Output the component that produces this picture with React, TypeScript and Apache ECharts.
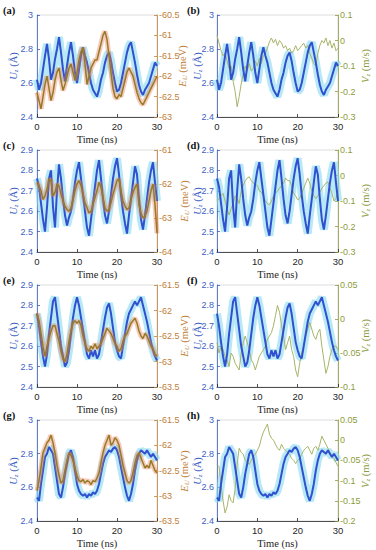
import React, { useEffect, useRef } from "react";
import * as echarts from "echarts";

// time samples (ns)
const TIME = Array.from({ length: 61 }, (_, k) => k * 0.5);

// U_z (Å) rows
const UZ_AB = [
  2.62, 2.56, 2.6, 2.68, 2.76, 2.83, 2.74, 2.62, 2.66, 2.74,
  2.8, 2.87, 2.78, 2.68, 2.61, 2.7, 2.78, 2.84, 2.76, 2.66,
  2.6, 2.68, 2.76, 2.81, 2.76, 2.72, 2.66, 2.6, 2.56, 2.54,
  2.52, 2.56, 2.62, 2.66, 2.72, 2.76, 2.78, 2.73, 2.66, 2.6,
  2.55, 2.56, 2.6, 2.66, 2.72, 2.78, 2.82, 2.84, 2.78, 2.72,
  2.65, 2.59, 2.55, 2.53, 2.56, 2.58, 2.6, 2.64, 2.68, 2.72,
  2.7,
];
const UZ_CD = [
  2.76, 2.72, 2.64, 2.56, 2.5, 2.62, 2.76, 2.8, 2.62, 2.52,
  2.7, 2.83, 2.76, 2.66, 2.58, 2.53, 2.57, 2.6, 2.66, 2.74,
  2.8, 2.84, 2.76, 2.68, 2.6, 2.52, 2.48, 2.56, 2.64, 2.72,
  2.8, 2.85, 2.76, 2.66, 2.58, 2.54, 2.6, 2.68, 2.76, 2.82,
  2.86, 2.78, 2.68, 2.6, 2.54, 2.49, 2.58, 2.66, 2.74, 2.82,
  2.78, 2.66, 2.56, 2.51, 2.58, 2.66, 2.74, 2.8, 2.84, 2.74,
  2.65,
];
const UZ_EF = [
  2.76, 2.7, 2.62, 2.55, 2.5, 2.56, 2.66, 2.74, 2.82, 2.84,
  2.76, 2.68, 2.6, 2.55, 2.5, 2.52, 2.58, 2.66, 2.74, 2.8,
  2.84, 2.8, 2.74, 2.68, 2.62, 2.56, 2.54, 2.58, 2.55, 2.58,
  2.54, 2.56, 2.62, 2.68, 2.74, 2.79, 2.81, 2.76, 2.69, 2.62,
  2.58, 2.55, 2.54, 2.6, 2.66, 2.72, 2.76, 2.78, 2.8, 2.82,
  2.8, 2.82, 2.84, 2.8, 2.76, 2.72, 2.67, 2.62, 2.58, 2.55,
  2.53,
];
const UZ_GH = [
  2.54, 2.52, 2.62, 2.7, 2.78, 2.8, 2.84, 2.82, 2.8, 2.72,
  2.64, 2.56, 2.54, 2.6, 2.68, 2.74, 2.8, 2.82, 2.78, 2.7,
  2.62, 2.58, 2.56, 2.55, 2.56, 2.54, 2.56, 2.55, 2.57, 2.56,
  2.58, 2.62, 2.68, 2.74, 2.78, 2.8, 2.82, 2.81, 2.83, 2.84,
  2.82, 2.78, 2.72, 2.66, 2.6, 2.55, 2.52, 2.56, 2.62, 2.7,
  2.76, 2.8, 2.82, 2.81, 2.8, 2.82, 2.8, 2.78, 2.8, 2.78,
  2.76,
];

// E_U (meV)
const E_A = [
  -62.4, -62.6, -62.8, -62.5, -62.2, -62.0, -62.3, -62.6, -62.4, -62.1,
  -61.9, -61.8, -62.1, -62.35, -62.2, -62.0, -61.8, -61.7, -61.9, -62.1,
  -61.9, -61.6, -61.4, -61.3, -61.7, -62.2, -62.0, -61.8, -61.7, -61.6,
  -61.6, -61.4, -61.2, -61.0, -60.9, -61.1, -61.5, -61.9, -62.3, -62.5,
  -62.55, -62.45, -62.5, -62.3, -62.1, -61.9, -61.8, -61.9, -62.0, -62.2,
  -62.4, -62.55, -62.65, -62.7, -62.6, -62.5, -62.4, -62.3, -62.2, -62.1,
  -62.0,
];
const E_C = [
  -61.95, -62.05, -62.2, -62.45, -62.35, -62.15, -61.85, -61.9, -62.35, -62.25,
  -62.0, -62.05, -62.3, -62.5, -62.65, -62.75, -62.8, -62.7, -62.45, -62.2,
  -62.0, -61.9, -62.05, -62.3, -62.55, -62.7, -62.85, -62.8, -62.6, -62.4,
  -62.2, -61.95, -62.1, -62.4, -62.7, -62.8, -62.75, -62.55, -62.3, -62.1,
  -61.9, -61.85, -62.2, -62.5, -62.65, -62.75, -62.7, -62.45, -62.25, -62.1,
  -62.0, -62.6, -62.85, -63.0, -62.95, -62.8, -62.5, -62.2, -62.0, -62.6,
  -63.45,
];
const E_E = [
  -62.05, -62.2, -62.45, -62.7, -62.9, -62.7, -62.55, -62.4, -62.3, -62.3,
  -62.45, -62.6, -62.8, -62.95, -63.0, -62.85, -62.6, -62.4, -62.25, -62.2,
  -62.25, -62.2, -62.3, -62.5, -62.65, -62.75, -62.8, -62.7, -62.75, -62.65,
  -62.75, -62.7, -62.65, -62.55, -62.45, -62.35, -62.4, -62.45, -62.55, -62.65,
  -62.7, -62.8, -62.75, -62.6, -62.5, -62.45, -62.35, -62.25, -62.2, -62.15,
  -62.25, -62.4, -62.5, -62.55, -62.45, -62.5, -62.6, -62.7, -62.75, -62.85,
  -62.9,
];
const E_G = [
  -62.9, -62.7, -62.45, -62.15, -62.05, -61.95, -61.9, -61.8, -61.95, -62.15,
  -62.4, -62.6, -62.75, -62.7, -62.5, -62.3, -62.15, -62.2, -62.3, -62.45,
  -62.6, -62.7, -62.72, -62.68, -62.75, -62.7, -62.72, -62.78, -62.7, -62.72,
  -62.65, -62.55, -62.35, -62.15, -62.0, -61.9, -61.8, -62.0, -61.95, -61.85,
  -61.9, -62.0, -62.2, -62.4, -62.55, -62.7, -62.75, -62.7, -62.55, -62.35,
  -62.2, -62.15, -62.25, -62.35, -62.45, -62.4, -62.45, -62.3, -62.4, -62.5,
  -62.55,
];

// V_z (m/s)
const V_B = [
  0.02, -0.01, -0.04, -0.06, -0.05, -0.08, -0.11, -0.1, -0.16, -0.2,
  -0.26, -0.22, -0.17, -0.13, -0.1, -0.12, -0.09, -0.12, -0.11, -0.08,
  -0.1, -0.07, -0.09, -0.06, -0.05, -0.03, -0.005, 0.01, -0.01, 0.005,
  -0.02, 0.0, -0.01, -0.03, -0.02, -0.04, -0.03, -0.05, -0.04, -0.02,
  -0.04, -0.03, -0.02, -0.01, -0.03, -0.02, -0.05, -0.07, -0.09, -0.1,
  -0.05, -0.02, 0.0, -0.01, 0.01, -0.02, 0.0, -0.03, -0.01, -0.04,
  -0.03,
];
const V_D = [
  -0.1, -0.09, -0.08, -0.07, -0.1, -0.13, -0.155, -0.13, -0.11, -0.08,
  -0.09, -0.11, -0.06, -0.04, -0.02, -0.01, -0.005, -0.02, -0.03, -0.035,
  -0.04, -0.06, -0.065, -0.08, -0.1, -0.11, -0.115, -0.1, -0.08, -0.07,
  -0.06, -0.05, -0.04, -0.03, -0.01, -0.02, -0.02, -0.04, -0.07, -0.08,
  -0.095, -0.09, -0.07, -0.05, -0.03, -0.01, -0.03, -0.06, -0.08, -0.09,
  -0.08, -0.065, -0.05, -0.04, -0.03, -0.025, -0.05, -0.07, -0.1, -0.09,
  -0.06,
];
const V_F = [
  -0.035, -0.05, -0.04, -0.045, -0.055, -0.06, -0.07, -0.05, -0.055, -0.065,
  -0.07, -0.075, -0.05, -0.035, -0.025, -0.035, -0.045, -0.06, -0.065, -0.075,
  -0.065, -0.055, -0.05, -0.045, -0.04, -0.03, -0.025, -0.02, -0.01, 0.005,
  0.02, 0.01, -0.01, -0.025, -0.045, -0.035, -0.025, -0.045, -0.055, -0.075,
  -0.085, -0.065, -0.05, -0.04, -0.025, -0.015, -0.005, -0.015, -0.025, -0.03,
  -0.02, -0.015, -0.04, -0.06, -0.08, -0.07, -0.055, -0.045, -0.04, -0.04,
  -0.045,
];
const V_H = [
  -0.06, -0.065, -0.11, -0.15, -0.18, -0.165, -0.135, -0.15, -0.155, -0.12,
  -0.06, -0.02, -0.03, -0.035, -0.05, -0.055, -0.06, -0.05, -0.04, -0.035,
  -0.025, -0.015, 0.005, 0.02, 0.03, 0.04, 0.015, 0.005, 0.0, -0.01,
  -0.02, -0.025, -0.01, -0.02, -0.025, -0.03, -0.035, -0.045, -0.05, -0.058,
  -0.05, -0.045, -0.035, -0.025, -0.02, -0.015, -0.025, -0.035, -0.02, -0.015,
  -0.025, -0.01, 0.01, 0.0, -0.01, -0.02, -0.03, -0.04, -0.045, -0.055,
  -0.065,
];

const PANEL_LABELS = ["(a)", "(b)", "(c)", "(d)", "(e)", "(f)", "(g)", "(h)"];
const UZ_ROWS = [UZ_AB, UZ_AB, UZ_CD, UZ_CD, UZ_EF, UZ_EF, UZ_GH, UZ_GH];
const RIGHT_ROWS = [E_A, V_B, E_C, V_D, E_E, V_F, E_G, V_H];
const LEFT_RANGES = [
  [2.4, 3, 0.2], [2.4, 3, 0.2],
  [2.4, 2.9, 0.1], [2.4, 2.9, 0.1],
  [2.4, 2.9, 0.1], [2.4, 2.9, 0.1],
  [2.4, 3, 0.2], [2.4, 3, 0.2],
];
const RIGHT_RANGES = [
  [-63, -60.5, 0.5], [-0.3, 0.1, 0.1],
  [-64, -61, 1], [-0.3, 0.1, 0.1],
  [-63.5, -61.5, 0.5], [-0.1, 0.05, 0.05],
  [-63.5, -61.5, 0.5], [-0.2, 0.05, 0.05],
];

const BLUE = "#3d5fc4";
const ORANGE = "#c0803a";
const OLIVE = "#8c9c3e";
const SANS = "Liberation Sans, Arial, sans-serif";
const SERIF = "Liberation Serif, Times New Roman, serif";

export default function App() {
  const ref = useRef<HTMLDivElement>(null);
  useEffect(() => {
    const chart = echarts.init(ref.current!, null, { renderer: "svg" });
    const grids: any[] = [];
    const xAxes: any[] = [];
    const yAxes: any[] = [];
    const series: any[] = [];
    const graphics: any[] = [];

    const richFor = (c: string) => ({
      i: { fontFamily: SERIF, fontStyle: "italic", fontSize: 10.5, fill: c, lineHeight: 12 },
      s: { fontFamily: SERIF, fontStyle: "italic", fontSize: 7, fill: c, lineHeight: 7, verticalAlign: "bottom" },
      n: { fontFamily: SERIF, fontSize: 10.5, fill: c, lineHeight: 12 },
    });
    const vName = (text: string, x: number, y: number, c: string) => ({
      type: "text",
      x,
      y,
      rotation: Math.PI / 2,
      silent: true,
      style: { text, rich: richFor(c), fill: c, align: "center", verticalAlign: "middle", font: `10.5px ${SERIF}` },
    });

    for (let i = 0; i < 8; i++) {
      const col = i % 2;
      const row = Math.floor(i / 2);
      const isE = col === 0;
      const rc = isE ? ORANGE : OLIVE;
      const top = 15 + 135 * row;
      const left = col === 0 ? 37 : 217;
      const width = col === 0 ? 120 : 121;
      grids.push({
        left,
        width,
        top,
        height: 102,
        show: true,
        borderColor: "#d4d4d4",
        borderWidth: 0.8,
        backgroundColor: "transparent",
      });
      xAxes.push({
        gridIndex: i,
        type: "value",
        min: 0,
        max: 30,
        interval: 10,
        axisLine: { show: true, onZero: false, lineStyle: { color: "#262626", width: 0.8 } },
        axisTick: { inside: true, length: 3, lineStyle: { color: "#262626", width: 0.8 } },
        axisLabel: { fontSize: 9.5, color: "#262626", margin: 4, fontFamily: SANS },
        splitLine: { show: false },
        name: "Time (ns)",
        nameLocation: "middle",
        nameGap: 17,
        nameTextStyle: { fontFamily: SERIF, fontSize: 10.5, color: "#262626" },
      });
      const lr = LEFT_RANGES[i];
      const rr = RIGHT_RANGES[i];
      yAxes.push({
        gridIndex: i,
        type: "value",
        position: "left",
        min: lr[0],
        max: lr[1],
        interval: lr[2],
        axisLine: { show: true, onZero: false, lineStyle: { color: BLUE, width: 0.8 } },
        axisTick: { show: true, inside: true, length: 3, lineStyle: { color: BLUE, width: 0.8 } },
        axisLabel: { fontSize: 9, color: BLUE, margin: col === 0 ? 4 : 3, fontFamily: SANS },
        splitLine: { show: false },
      });
      yAxes.push({
        gridIndex: i,
        type: "value",
        position: "right",
        min: rr[0],
        max: rr[1],
        interval: rr[2],
        axisLine: { show: true, onZero: false, lineStyle: { color: rc, width: 0.8 } },
        axisTick: { show: true, inside: true, length: 3, lineStyle: { color: rc, width: 0.8 } },
        axisLabel: { fontSize: 9, color: rc, margin: 2, fontFamily: SANS },
        splitLine: { show: false },
      });

      const midY = top + 51;
      graphics.push(vName("{i|U}{s|z} {n|(Å)}", col === 0 ? 13 : 197, midY, BLUE));
      if (isE) {
        graphics.push(vName("{i|E}{s|U} {n|(meV)}", row === 0 ? 182 : 184, midY, ORANGE));
      } else {
        graphics.push(vName("{i|V}{s|z} {n|(m/s)}", 365, midY, OLIVE));
      }

      const uz = UZ_ROWS[i].map((v, k) => [TIME[k], v]);
      const rv = RIGHT_ROWS[i].map((v, k) => [TIME[k], v]);
      const base = { type: "line", xAxisIndex: i, showSymbol: false, symbol: "none", silent: true, smooth: false };
      series.push({ ...base, yAxisIndex: 2 * i, data: uz, lineStyle: { color: "#86d8f0", width: 8, opacity: 0.6 }, z: 1 });
      if (isE) {
        series.push({ ...base, yAxisIndex: 2 * i, data: uz, lineStyle: { color: "#3050d0", width: 2 }, z: 2 });
        series.push({ ...base, yAxisIndex: 2 * i + 1, data: rv, lineStyle: { color: "#f07850", width: 5, opacity: 0.4 }, z: 3 });
        series.push({ ...base, yAxisIndex: 2 * i + 1, data: rv, lineStyle: { color: "#927c28", width: 1.5 }, z: 4 });
      } else {
        series.push({ ...base, yAxisIndex: 2 * i + 1, data: rv, lineStyle: { color: "#a6b46a", width: 1 }, z: 2 });
        series.push({ ...base, yAxisIndex: 2 * i, data: uz, lineStyle: { color: "#3050d0", width: 2 }, z: 3 });
      }

      graphics.push({
        type: "text",
        left: col === 0 ? 3 : 187,
        top: 5 + 135 * row,
        style: { text: PANEL_LABELS[i], font: `bold 10.5px ${SERIF}`, fill: "#111" },
      });
    }

    chart.setOption({
      animation: false,
      backgroundColor: "#ffffff",
      grid: grids,
      xAxis: xAxes,
      yAxis: yAxes,
      series,
      graphic: graphics,
    });
    return () => chart.dispose();
  }, []);
  return <div ref={ref} style={{ position: "absolute", left: 0, top: 0, width: 376, height: 550 }} />;
}
